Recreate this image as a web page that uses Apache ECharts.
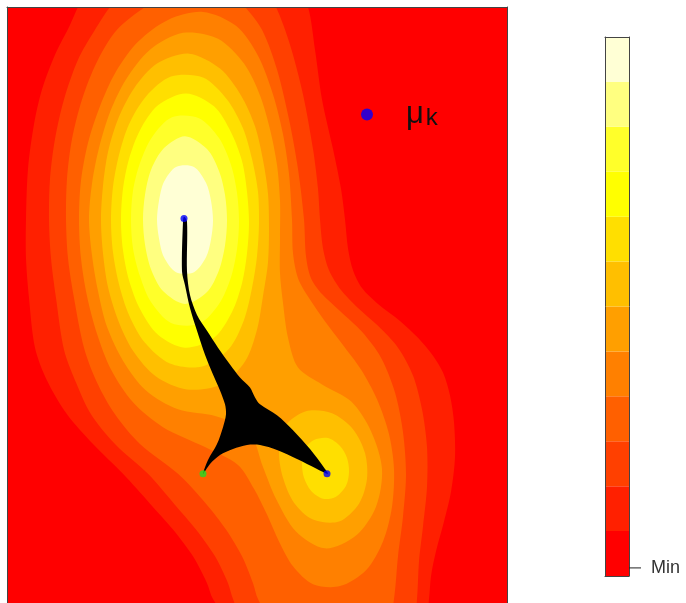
<!DOCTYPE html>
<html><head><meta charset="utf-8">
<script src="https://cdn.jsdelivr.net/npm/echarts@6/dist/echarts.min.js"></script>
<style>html,body{margin:0;padding:0;background:#fff}#chart{width:686px;height:603px}</style>
</head><body><div id="chart"></div>
<script>
// heat colours, one per band, lowest first
const levelColors = ['#FF0000','#FF2000','#FF4000','#FF6000','#FF8000','#FF9F00','#FFBF00','#FFDF00','#FFFF00','#FFFF2A','#FFFF80','#FFFFD5'];

// contour outlines (plot units, y grows downward), one array per level / island
const level1 = [[19,214],[21,163],[27,118],[35,83],[48,48],[63,18],[71,0],[83,-22],[108,-52],[143,-75],[188,-85],[233,-73],[268,-45],[290,-19],[301,0],[308,43],[315,93],[326,143],[334,183],[338,214],[341,243],[346,265],[355,283],[371,299],[393,316],[411,333],[426,351],[436,368],[443,391],[447,418],[448,453],[444,488],[437,518],[429,548],[424,573],[422,596],[418,623],[393,643],[333,655],[268,643],[225,621],[206,596],[200,580],[186,553],[166,526],[143,500],[116,470],[86,440],[60,410],[40,376],[28,343],[22,293],[19,253]];
const level2 = [[42,214],[43,173],[48,133],[57,93],[71,53],[88,23],[103,0],[123,-22],[158,-42],[198,-45],[238,-27],[261,-10],[269,0],[283,38],[296,88],[306,143],[311,183],[313,214],[316,243],[322,265],[334,285],[351,303],[371,321],[391,343],[406,371],[415,405],[420,443],[420,483],[416,523],[412,558],[410,596],[406,623],[383,641],[323,648],[263,638],[236,618],[226,596],[221,580],[208,553],[189,526],[167,500],[141,470],[108,440],[84,410],[69,378],[57,345],[49,293],[44,253]];
const level3 = [[59,214],[60,173],[65,133],[75,93],[90,55],[110,23],[138,0],[163,-15],[193,-21],[221,-15],[238,0],[255,23],[270,63],[282,113],[291,163],[297,214],[299,251],[304,273],[315,289],[333,306],[355,327],[374,353],[388,388],[396,428],[399,471],[396,513],[391,553],[387,596],[381,621],[353,635],[298,633],[265,618],[251,596],[246,580],[235,553],[219,526],[199,500],[171,470],[133,440],[108,410],[90,378],[77,343],[67,293],[61,253]];
const level4 = [[72,214],[74,175],[81,137],[93,100],[109,65],[131,35],[161,13],[196,5],[229,19],[251,49],[266,88],[276,128],[282,168],[285,214],[286,248],[291,273],[302,293],[317,315],[335,339],[354,365],[370,395],[382,430],[387,465],[385,503],[376,538],[359,567],[333,583],[306,581],[286,563],[272,538],[260,511],[247,485],[231,461],[198,443],[156,423],[126,398],[104,365],[90,329],[80,291],[74,253]];
const level5 = [[82,214],[85,178],[92,142],[103,106],[119,73],[143,43],[176,26],[211,32],[237,57],[253,89],[263,123],[270,159],[273,195],[273,233],[273,268],[276,298],[281,333],[291,363],[315,380],[344,397],[364,427],[375,465],[369,503],[349,532],[318,545],[289,528],[269,495],[256,463],[242,427],[209,412],[171,405],[139,386],[116,356],[100,322],[91,286],[85,250]];
const level6A = [[94,214],[96,180],[101,146],[111,113],[127,82],[150,57],[182,47],[213,62],[234,89],[248,120],[256,154],[261,188],[262,222],[261,257],[256,291],[250,325],[238,357],[214,380],[180,385],[149,372],[126,346],[111,315],[101,282],[96,248]];
const level6B = [[272,448],[278,422],[299,407],[325,409],[346,425],[358,449],[360,475],[352,500],[332,518],[306,516],[287,499],[276,474]];
const level7A = [[104,214],[106,181],[112,149],[122,118],[139,90],[164,70],[196,71],[220,93],[236,122],[245,153],[251,186],[252,218],[250,251],[245,283],[237,315],[222,344],[195,362],[163,359],[138,338],[122,310],[112,279],[106,247]];
const level7B = [[295,460],[297,446],[307,436],[321,434],[333,442],[340,454],[342,468],[339,482],[329,493],[316,495],[304,487],[297,474]];
const level8 = [[114,214],[116,183],[122,153],[133,124],[151,99],[179,87],[207,100],[224,126],[235,155],[240,186],[242,217],[240,248],[235,278],[225,307],[207,333],[178,343],[151,330],[133,304],[122,275],[116,245]];
const level9 = [[124,214],[126,185],[133,157],[145,131],[165,111],[192,112],[212,132],[224,159],[230,187],[232,216],[230,244],[224,272],[212,299],[192,319],[164,318],[144,297],[133,271],[126,243]];
const level10 = [[136,214],[138,189],[144,164],[157,142],[178,130],[200,143],[212,165],[218,189],[220,215],[218,240],[212,265],[200,287],[178,299],[156,286],[144,264],[138,239]];
const level11 = [[150,214],[152,195],[157,176],[169,161],[187,161],[199,177],[204,195],[206,215],[204,234],[199,252],[187,267],[169,267],[157,252],[152,233]];

// band swept by the trajectories
const pathBand = [[177,211],[180,216],[180,266],[183,290],[190,310],[200,326],[211,343],[223,360],[233,373],[243,383],[248,393],[253,400],[270,411],[286,426],[303,445],[318,465],[321,470],[310,465],[290,455],[270,446],[253,441],[240,441],[226,445],[213,451],[203,460],[196,470],[201,456],[210,440],[216,423],[219,410],[218,400],[213,386],[206,370],[198,350],[190,326],[183,303],[178,280],[175,266],[176,216]];
const muPoints = [[177,213],[320,470]];
const startPoint = [[196,470]];
const keyTickValue = 0.18;

const contours = [
  [1, level1], [2, level2], [3, level3], [4, level4], [5, level5],
  [6, level6A], [6, level6B], [7, level7A], [7, level7B],
  [8, level8], [9, level9], [10, level10], [11, level11]
];

const chart = echarts.init(document.getElementById('chart'));
const frameAxis = {axisLine:{show:true,onZero:false,lineStyle:{color:'#444',width:1}},axisTick:{show:false},axisLabel:{show:false},splitLine:{show:false},z:10};
const axis = (extra) => Object.assign({type:'value'}, frameAxis, extra);

chart.setOption({
  animation: false,
  grid: [
    {left:7, top:7, width:500, height:600, show:true, backgroundColor:levelColors[0], borderWidth:0},
    {left:605, top:37, width:24, height:539}
  ],
  xAxis: [
    axis({gridIndex:0, min:0, max:500, position:'bottom'}),
    axis({gridIndex:0, min:0, max:500, position:'top'}),
    axis({gridIndex:1, min:0, max:1, position:'bottom'}),
    axis({gridIndex:1, min:0, max:1, position:'top'})
  ],
  yAxis: [
    axis({gridIndex:0, min:0, max:600, inverse:true, position:'left'}),
    axis({gridIndex:0, min:0, max:600, inverse:true, position:'right'}),
    axis({gridIndex:1, min:0, max:12, position:'left'}),
    axis({gridIndex:1, min:0, max:12, position:'right',
      axisLabel:{show:true, customValues:[keyTickValue], margin:22, formatter:() => 'Min',
        fontSize:18, color:'#333', fontFamily:'Liberation Sans'}})
  ],
  legend: {
    left:356, top:94, icon:'circle', itemWidth:12, itemHeight:12, data:['mu_k'],
    formatter: () => '{m|μ}{k|k}',
    textStyle: {rich: {
      m: {fontSize:31, fontFamily:'Liberation Sans', color:'#111', padding:[0,0,0,28]},
      k: {fontSize:24, fontFamily:'Liberation Sans', color:'#111', verticalAlign:'bottom', padding:[0,0,0,2]}
    }}
  },
  series: [
    {
      type:'custom', xAxisIndex:0, yAxisIndex:0, clip:true, silent:true,
      data: contours.map((c, i) => [i]),
      renderItem: (params, api) => {
        const [lev, pts] = contours[params.dataIndex];
        return {type:'polygon', shape:{points:pts.map(p => api.coord(p)), smooth:0.3},
                style:{fill:levelColors[lev]}};
      }
    },
    {
      type:'custom', xAxisIndex:0, yAxisIndex:0, clip:true, z:3, silent:true, data:[[0]],
      renderItem: (params, api) => ({type:'polygon',
        shape:{points:pathBand.map(p => api.coord(p)), smooth:0.3}, style:{fill:'#000'}})
    },
    {
      type:'custom', xAxisIndex:2, yAxisIndex:2, silent:true,
      data: levelColors.map((c, i) => [i, i + 1]),
      renderItem: (params, api) => {
        const a = api.coord([0, api.value(0)]), b = api.coord([1, api.value(1)]);
        return {type:'rect', shape:{x:a[0], y:b[1], width:b[0]-a[0], height:a[1]-b[1]},
                style:{fill:levelColors[params.dataIndex]}};
      }
    },
    {
      type:'custom', xAxisIndex:2, yAxisIndex:2, silent:true, z:11, data:[[1, keyTickValue]],
      renderItem: (params, api) => {
        const p = api.coord([api.value(0), api.value(1)]);
        return {type:'line', shape:{x1:p[0], y1:p[1], x2:p[0] + 12, y2:p[1]},
                style:{stroke:'#222', lineWidth:1}};
      }
    },
    {name:'mu_k', type:'scatter', xAxisIndex:0, yAxisIndex:0, z:5, symbolSize:7,
     itemStyle:{color:'#0000FF'}, data:muPoints},
    {type:'scatter', xAxisIndex:0, yAxisIndex:0, z:5, symbolSize:7,
     itemStyle:{color:'#22DD22'}, data:startPoint}
  ]
});
</script></body></html>
